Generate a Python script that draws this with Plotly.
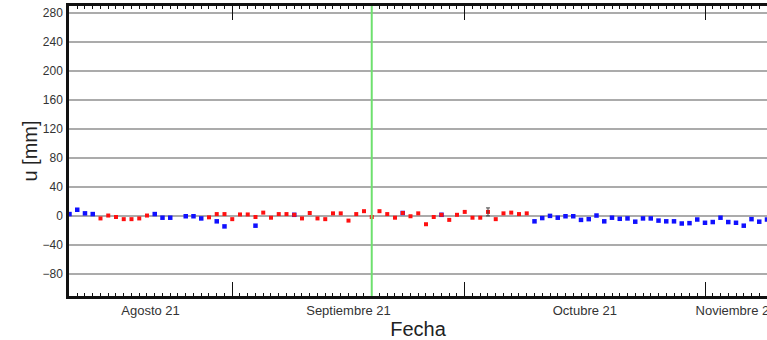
import plotly.graph_objects as go

# ---------------- data ----------------
blue_dates = ["2021-08-11", "2021-08-12", "2021-08-13", "2021-08-14", "2021-08-22", "2021-08-23",
              "2021-08-24", "2021-08-26", "2021-08-27", "2021-08-28", "2021-08-30", "2021-08-31",
              "2021-09-04", "2021-09-09", "2021-09-23", "2021-09-28",
              "2021-10-10", "2021-10-11", "2021-10-12", "2021-10-13", "2021-10-14", "2021-10-15",
              "2021-10-16", "2021-10-17", "2021-10-18", "2021-10-19", "2021-10-20", "2021-10-21",
              "2021-10-22", "2021-10-23", "2021-10-24", "2021-10-25", "2021-10-26", "2021-10-27",
              "2021-10-28", "2021-10-29", "2021-10-30", "2021-10-31", "2021-11-01", "2021-11-02",
              "2021-11-03", "2021-11-04", "2021-11-05", "2021-11-06", "2021-11-07", "2021-11-08",
              "2021-11-09"]
blue_vals = [3, 9, 4, 3, 3, -2,
             -2, 0, 0, -3, -7, -14,
             -13, 2, 4.5, 2,
             -7, -2.5, 0.5, -2, 0, 0,
             -5, -4, 1, -7, -2, -3.5,
             -3, -7.5, -3, -3, -6, -7,
             -7, -10, -9.5, -4.5, -9, -8,
             -2, -8, -9, -13, -4, -7.5,
             -4.5]

red_dates = ["2021-08-15", "2021-08-16", "2021-08-17", "2021-08-18", "2021-08-19", "2021-08-20",
             "2021-08-21", "2021-08-29", "2021-08-30", "2021-08-31", "2021-09-01", "2021-09-02",
             "2021-09-03", "2021-09-04", "2021-09-05", "2021-09-06", "2021-09-07", "2021-09-08",
             "2021-09-09", "2021-09-10", "2021-09-11", "2021-09-12", "2021-09-13", "2021-09-14",
             "2021-09-15", "2021-09-16", "2021-09-17", "2021-09-18", "2021-09-19", "2021-09-20",
             "2021-09-21", "2021-09-22", "2021-09-23", "2021-09-24", "2021-09-25", "2021-09-26",
             "2021-09-27", "2021-09-28", "2021-09-29", "2021-09-30", "2021-10-01", "2021-10-02",
             "2021-10-03", "2021-10-04", "2021-10-05", "2021-10-06", "2021-10-07", "2021-10-08",
             "2021-10-09"]
red_vals = [-3, 1, -1, -4, -4, -3,
            1, -1.5, 3, 3, -4, 2.5,
            2.5, -1, 5, -2, 3, 3,
            2, -3, 4.5, -3, -4, 4,
            4, -6, 3, 7, -1, 7,
            3, -2, 4.5, 0, 4, -11,
            -1, 2, -5, 2, 6, -2,
            -2, 6, -4, 4, 5, 3,
            4]

err_dates = ["2021-10-04"]
err_vals = [6]
err_size = [5.5]

event_date = "2021-09-19"

month_ticks = ["2021-09-01", "2021-10-01", "2021-11-01"]
label_pos = ["2021-08-21 11:00", "2021-09-16 00:00", "2021-10-16 12:00", "2021-11-05 00:00"]
label_text = ["Agosto 21", "Septiembre 21", "Octubre 21", "Noviembre 21"]

y_ticks = [-80, -40, 0, 40, 80, 120, 160, 200, 240, 280]

x_range = ["2021-08-10 22:30", "2021-11-09 00:00"]
y_range = [-110, 290]

# ---------------- figure ----------------
fig = go.Figure()

fig.add_trace(go.Scatter(x=blue_dates, y=blue_vals, mode="markers",
                         marker=dict(symbol="square", size=4.5, color="#1010ff"),
                         showlegend=False))
fig.add_trace(go.Scatter(x=red_dates, y=red_vals, mode="markers",
                         marker=dict(symbol="square", size=4, color="#ff1010"),
                         showlegend=False))
fig.add_trace(go.Scatter(x=err_dates, y=err_vals, mode="markers",
                         marker=dict(size=1, color="rgba(0,0,0,0)"),
                         error_y=dict(type="data", array=err_size, color="#444444",
                                      thickness=1, width=2),
                         showlegend=False))
# invisible trace carrying the label axis
fig.add_trace(go.Scatter(x=x_range, y=[None, None], xaxis="x2", mode="markers",
                         showlegend=False, hoverinfo="skip"))

fig.add_shape(type="line", xref="x", yref="paper", x0=event_date, x1=event_date,
              y0=0, y1=1, line=dict(color="#6ee06e", width=2))

font_family = "Liberation Sans, Arial, sans-serif"

fig.update_layout(
    width=767, height=340,
    margin=dict(l=69, r=0, t=6, b=44),
    plot_bgcolor="white", paper_bgcolor="white",
    font=dict(family=font_family, color="#333333"),
    xaxis=dict(
        type="date", range=x_range, automargin=False,
        tickvals=month_ticks, showticklabels=False,
        ticks="inside", ticklen=14, tickwidth=1.3, tickcolor="#111111",
        minor=dict(ticks="inside", ticklen=3, tickwidth=1, tickcolor="#111111",
                   dtick=86400000, tick0="2021-08-01", showgrid=False),
        showgrid=False, zeroline=False,
        showline=True, linecolor="#111111", linewidth=2.5, mirror="ticks",
    ),
    xaxis2=dict(
        type="date", range=x_range, overlaying="x", side="bottom", anchor="y",
        automargin=False,
        tickvals=label_pos, ticktext=label_text, ticklabeloverflow="allow",
        ticks="outside", ticklen=2, tickcolor="rgba(0,0,0,0)",
        tickfont=dict(size=13, color="#333333"),
        showgrid=False, zeroline=False, showline=False,
        title=dict(text="Fecha", font=dict(size=20, color="#222222"), standoff=7),
    ),
    yaxis=dict(
        range=y_range, tickvals=y_ticks, automargin=False,
        tickfont=dict(size=12, color="#333333"),
        ticks="outside", ticklen=1, tickcolor="rgba(0,0,0,0)",
        showgrid=True, gridcolor="#ababab", gridwidth=1.5,
        zeroline=False,
        showline=True, linecolor="#111111", linewidth=2.5,
        title=dict(text="u [mm]", font=dict(size=20, color="#222222"), standoff=0),
    ),
)

fig.write_html("out.html")
